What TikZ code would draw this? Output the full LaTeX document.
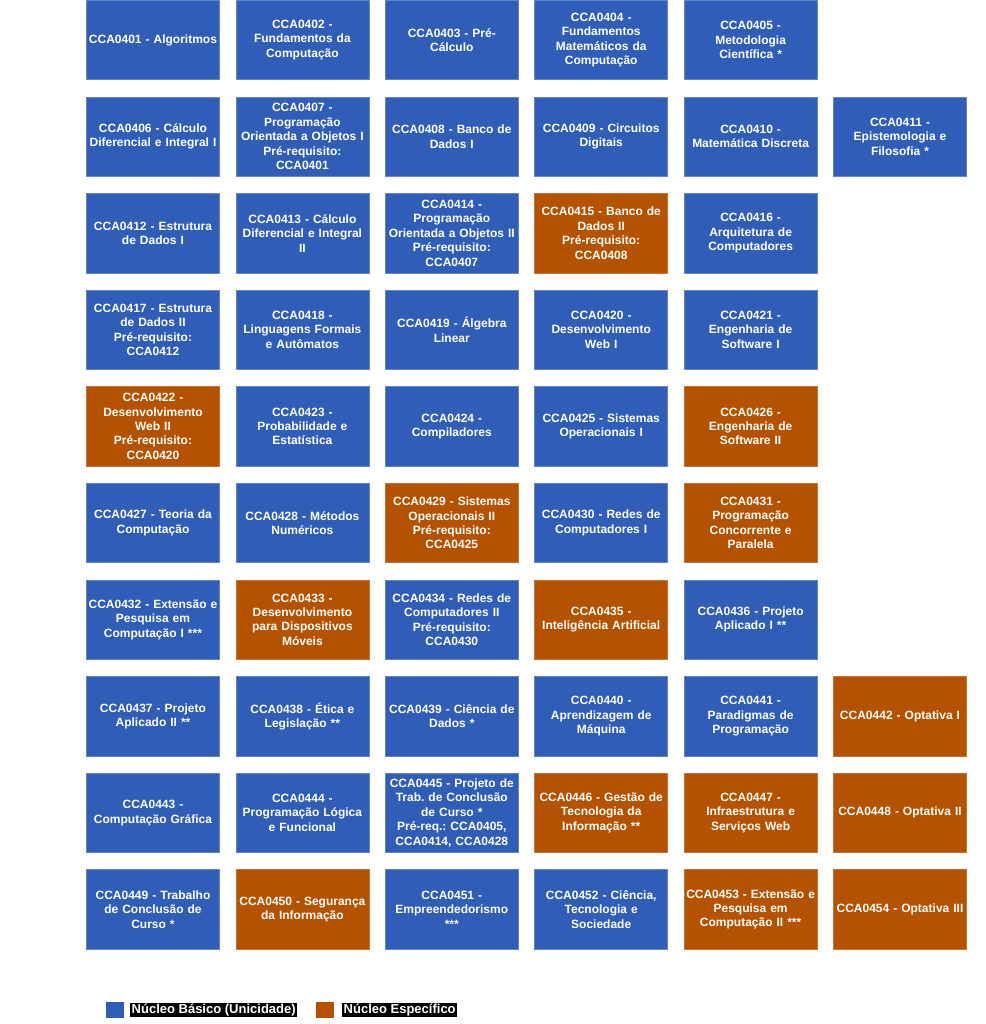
\documentclass[tikz,border=0pt]{standalone}
\usepackage{fontspec}
\setmainfont{Liberation Sans}
\frenchspacing
\definecolor{nbasic}{RGB}{47,93,184}
\definecolor{nspec}{RGB}{180,82,0}
\tikzset{
  x=1pt,y=1pt,
  course/.style={minimum width=132pt,minimum height=79.5pt,inner sep=1pt,
    text width=131pt,align=center,text=white,
    font=\fontsize{12}{14.4}\selectfont\bfseries\frenchspacing},
  basic/.style={course,fill=nbasic,draw=nbasic!75!white,line width=0.7pt},
  spec/.style={course,fill=nspec,draw=nspec!80!white,line width=0.7pt},
  legsq/.style={minimum width=18pt,minimum height=16pt,inner sep=0pt},
  legtxt/.style={fill=black,text=white,inner xsep=1.5pt,inner ysep=0pt,
    minimum height=14.6pt,font=\fontsize{13}{14}\selectfont\bfseries}
}
\begin{document}
\begin{tikzpicture}
\useasboundingbox (0,0) rectangle (985,-1024);
% row 0
\node[basic] (c01) at (153,-40.05) {CCA0401 - Algoritmos};
\node[basic] (c02) at (302.4,-40.05) {CCA0402 -\\Fundamentos da\\Computação};
\node[basic] (c03) at (451.8,-40.05) {CCA0403 - Pré-\\Cálculo};
\node[basic] (c04) at (601.2,-40.05) {CCA0404 -\\Fundamentos\\Matemáticos da\\Computação};
\node[basic] (c05) at (750.6,-40.05) {CCA0405 -\\Metodologia\\Científica *};
% row 1
\node[basic] (c06) at (153,-136.65) {CCA0406 - Cálculo\\Diferencial e Integral I};
\node[basic] (c07) at (302.4,-136.65) {CCA0407 -\\Programação\\Orientada a Objetos I\\Pré-requisito:\\CCA0401};
\node[basic] (c08) at (451.8,-136.65) {CCA0408 - Banco de\\Dados I};
\node[basic] (c09) at (601.2,-136.65) {CCA0409 - Circuitos\\Digitais};
\node[basic] (c10) at (750.6,-136.65) {CCA0410 -\\Matemática Discreta};
\node[basic] (c11) at (900,-136.65) {CCA0411 -\\Epistemologia e\\Filosofia *};
% row 2
\node[basic] (c12) at (153,-233.25) {CCA0412 - Estrutura\\de Dados I};
\node[basic] (c13) at (302.4,-233.25) {CCA0413 - Cálculo\\Diferencial e Integral\\II};
\node[basic] (c14) at (451.8,-233.25) {CCA0414 -\\Programação\\Orientada a Objetos II\\Pré-requisito:\\CCA0407};
\node[spec] (c15) at (601.2,-233.25) {CCA0415 - Banco de\\Dados II\\Pré-requisito:\\CCA0408};
\node[basic] (c16) at (750.6,-233.25) {CCA0416 -\\Arquitetura de\\Computadores};
% row 3
\node[basic] (c17) at (153,-329.85) {CCA0417 - Estrutura\\de Dados II\\Pré-requisito:\\CCA0412};
\node[basic] (c18) at (302.4,-329.85) {CCA0418 -\\Linguagens Formais\\e Autômatos};
\node[basic] (c19) at (451.8,-329.85) {CCA0419 - Álgebra\\Linear};
\node[basic] (c20) at (601.2,-329.85) {CCA0420 -\\Desenvolvimento\\Web I};
\node[basic] (c21) at (750.6,-329.85) {CCA0421 -\\Engenharia de\\Software I};
% row 4
\node[spec] (c22) at (153,-426.45) {CCA0422 -\\Desenvolvimento\\Web II\\Pré-requisito:\\CCA0420};
\node[basic] (c23) at (302.4,-426.45) {CCA0423 -\\Probabilidade e\\Estatística};
\node[basic] (c24) at (451.8,-426.45) {CCA0424 -\\Compiladores};
\node[basic] (c25) at (601.2,-426.45) {CCA0425 - Sistemas\\Operacionais I};
\node[spec] (c26) at (750.6,-426.45) {CCA0426 -\\Engenharia de\\Software II};
% row 5
\node[basic] (c27) at (153,-523.05) {CCA0427 - Teoria da\\Computação};
\node[basic] (c28) at (302.4,-523.05) {CCA0428 - Métodos\\Numéricos};
\node[spec] (c29) at (451.8,-523.05) {CCA0429 - Sistemas\\Operacionais II\\Pré-requisito:\\CCA0425};
\node[basic] (c30) at (601.2,-523.05) {CCA0430 - Redes de\\Computadores I};
\node[spec] (c31) at (750.6,-523.05) {CCA0431 -\\Programação\\Concorrente e\\Paralela};
% row 6
\node[basic] (c32) at (153,-619.65) {CCA0432 - Extensão e\\Pesquisa em\\Computação I ***};
\node[spec] (c33) at (302.4,-619.65) {CCA0433 -\\Desenvolvimento\\para Dispositivos\\Móveis};
\node[basic] (c34) at (451.8,-619.65) {CCA0434 - Redes de\\Computadores II\\Pré-requisito:\\CCA0430};
\node[spec] (c35) at (601.2,-619.65) {CCA0435 -\\Inteligência Artificial};
\node[basic] (c36) at (750.6,-619.65) {CCA0436 - Projeto\\Aplicado I **};
% row 7
\node[basic] (c37) at (153,-716.25) {CCA0437 - Projeto\\Aplicado II **};
\node[basic] (c38) at (302.4,-716.25) {CCA0438 - Ética e\\Legislação **};
\node[basic] (c39) at (451.8,-716.25) {CCA0439 - Ciência de\\Dados *};
\node[basic] (c40) at (601.2,-716.25) {CCA0440 -\\Aprendizagem de\\Máquina};
\node[basic] (c41) at (750.6,-716.25) {CCA0441 -\\Paradigmas de\\Programação};
\node[spec] (c42) at (900,-716.25) {CCA0442 - Optativa I};
% row 8
\node[basic] (c43) at (153,-812.85) {CCA0443 -\\Computação Gráfica};
\node[basic] (c44) at (302.4,-812.85) {CCA0444 -\\Programação Lógica\\e Funcional};
\node[basic] (c45) at (451.8,-812.85) {CCA0445 - Projeto de\\Trab. de Conclusão\\de Curso *\\Pré-req.: CCA0405,\\CCA0414, CCA0428};
\node[spec] (c46) at (601.2,-812.85) {CCA0446 - Gestão de\\Tecnologia da\\Informação **};
\node[spec] (c47) at (750.6,-812.85) {CCA0447 -\\Infraestrutura e\\Serviços Web};
\node[spec] (c48) at (900,-812.85) {CCA0448 - Optativa II};
% row 9
\node[basic] (c49) at (153,-909.45) {CCA0449 - Trabalho\\de Conclusão de\\Curso *};
\node[spec] (c50) at (302.4,-909.45) {CCA0450 - Segurança\\da Informação};
\node[basic] (c51) at (451.8,-909.45) {CCA0451 -\\Empreendedorismo\\{}***};
\node[basic] (c52) at (601.2,-909.45) {CCA0452 - Ciência,\\Tecnologia e\\Sociedade};
\node[spec] (c53) at (750.6,-909.45) {CCA0453 - Extensão e\\Pesquisa em\\Computação II ***};
\node[spec] (c54) at (900,-909.45) {CCA0454 - Optativa III};
% legend
\node[legsq,fill=nbasic] (lb) at (114.5,-1010) {};
\node[legtxt,anchor=west] (lbt) at (130,-1010) {Núcleo Básico (Unicidade)};
\node[legsq,fill=nspec] (ls) at (325.2,-1010) {};
\node[legtxt,anchor=west] (lst) at (342,-1010) {Núcleo Específico};
\end{tikzpicture}
\end{document}
